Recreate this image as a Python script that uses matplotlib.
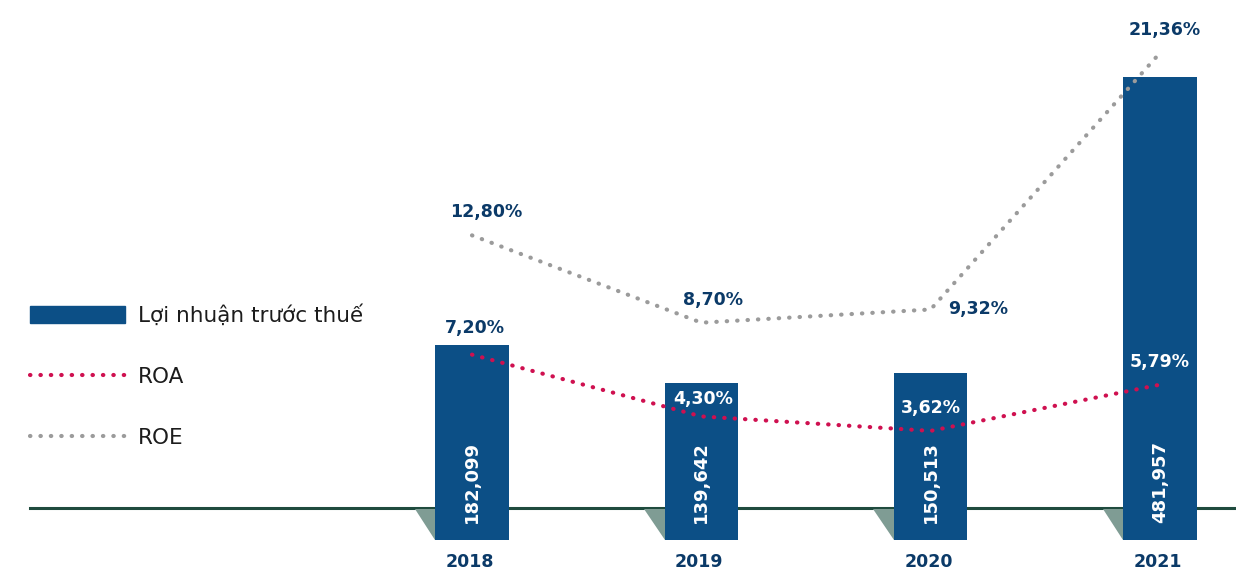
import matplotlib.pyplot as plt
from matplotlib.lines import Line2D
from matplotlib.patches import Patch

plt.rcParams["font.family"] = ["DejaVu Sans"]

YEARS = ["2018", "2019", "2020", "2021"]
PROFIT = [182099, 139642, 150513, 481957]          # Lợi nhuận trước thuế
PROFIT_LABELS = ["182,099", "139,642", "150,513", "481,957"]
ROA = [7.20, 4.30, 3.62, 5.79]
ROE = [12.80, 8.70, 9.32, 21.36]

BAR_COLOR = "#0c4f86"
ROA_COLOR = "#cf1050"
ROE_COLOR = "#9b9b9b"
NAVY = "#0b3a68"
BASE_COLOR = "#1f4b3e"

# label offsets in pixels (dx, dy) and text colours
ROE_OFFSETS = [(14, 23), (12, 23), (48, 0), (5, 23)]
ROA_OFFSETS = [(3, 27), (2, 17), (0, 23), (0, 23)]
ROA_TEXT = [NAVY, "white", "white", "white"]

fig = plt.figure(figsize=(12.36, 5.70), dpi=100)
ax = fig.add_axes([0, 0, 1, 1])
ax2 = ax.twinx()
ax2.set_position([0, 0, 1, 1])
for a in (ax, ax2):
    a.set_axis_off()

x = list(range(len(YEARS)))
step = 229.3
ax.set_xlim(-472 / step, (1236 - 472) / step)
ax.set_ylim(-69350, 568230)
ax2.set_ylim(-62 / 21.3, 508 / 21.3)

bar_w = 0.32
bar_bottom = -35800

# zero line, bars sit over it and drop a little below
ax.axhline(0, xmin=30 / 1236, xmax=1, color=BASE_COLOR, lw=2.2, zorder=1)
for xi in x:
    left = xi - bar_w / 2
    ax.fill([left - 0.09, left, left], [-1500, -1500, bar_bottom],
            color="#7f9c94", lw=0, zorder=1.5)

ax.bar(x, [v - bar_bottom for v in PROFIT], bottom=bar_bottom, width=bar_w,
       color=BAR_COLOR, zorder=2)

for xi, lab in zip(x, PROFIT_LABELS):
    ax.annotate(lab, (xi, 0), xytext=(0, 26), textcoords="offset pixels",
                rotation=90, ha="center", va="center", color="white",
                fontsize=13, fontweight="bold", zorder=3)

for xi, yr in zip(x, YEARS):
    ax.annotate(yr, (xi, bar_bottom), xytext=(-2, -22), textcoords="offset pixels",
                ha="center", va="center", color=NAVY, fontsize=12.5,
                fontweight="bold")

dots = dict(lw=3.0, dash_capstyle="round", dashes=(0.1, 2.4), zorder=4)
ax2.plot(x, ROE, color=ROE_COLOR, **dots)
ax2.plot(x, ROA, color=ROA_COLOR, **dots)

for xi, v, (dx, dy) in zip(x, ROE, ROE_OFFSETS):
    ax2.annotate(f"{v:.2f}%".replace(".", ","), (xi, v), xytext=(dx, dy),
                 textcoords="offset pixels", ha="center", va="center",
                 color=NAVY, fontsize=12.5, fontweight="bold", zorder=5)

for xi, v, (dx, dy), c in zip(x, ROA, ROA_OFFSETS, ROA_TEXT):
    ax2.annotate(f"{v:.2f}%".replace(".", ","), (xi, v), xytext=(dx, dy),
                 textcoords="offset pixels", ha="center", va="center",
                 color=c, fontsize=12.5, fontweight="bold", zorder=5)

handles = [
    Patch(facecolor=BAR_COLOR, edgecolor=BAR_COLOR),
    Line2D([], [], color=ROA_COLOR, lw=3.0, dash_capstyle="round", dashes=(0.1, 2.4)),
    Line2D([], [], color=ROE_COLOR, lw=3.0, dash_capstyle="round", dashes=(0.1, 2.4)),
]
leg = fig.legend(handles, ["Lợi nhuận trước thuế", "ROA", "ROE"],
                 loc="upper left", bbox_to_anchor=(11 / 1236, 1 - 285 / 570),
                 frameon=False, fontsize=15.5, handlelength=4.4,
                 handleheight=0.8, labelspacing=1.9, handletextpad=0.6)
for t in leg.get_texts():
    t.set_color("#1c1c1c")

fig.savefig("out.png", dpi=100)
